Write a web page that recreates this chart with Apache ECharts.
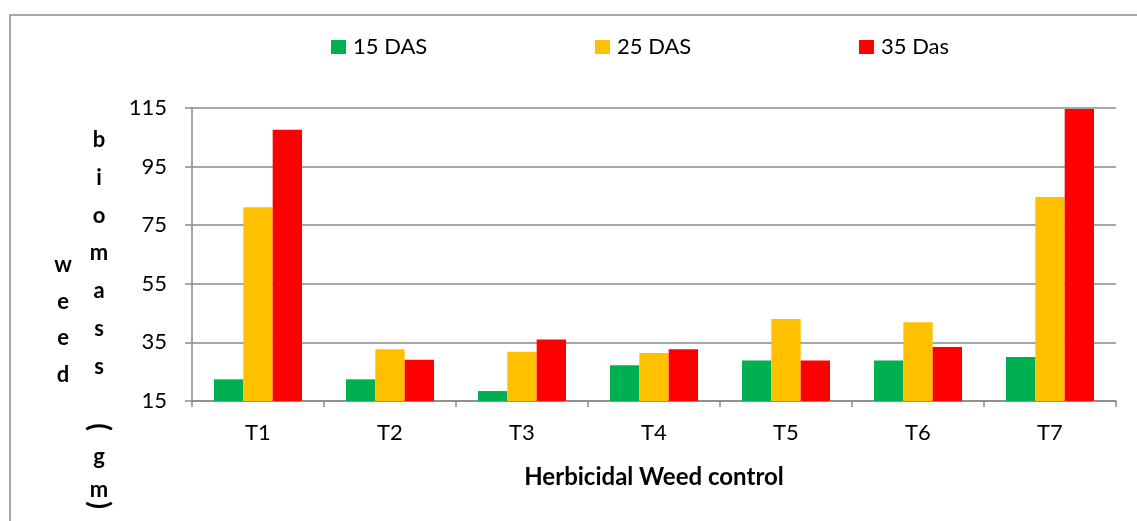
<!DOCTYPE html>
<html>
<head>
<meta charset="utf-8">
<script src="https://cdn.jsdelivr.net/npm/echarts@6/dist/echarts.min.js"></script>
<style>
html,body{margin:0;padding:0;background:#fff;}
#chart{width:1137px;height:521px;}
</style>
</head>
<body>
<div id="chart"></div>
<script>
const categories = ['T1','T2','T3','T4','T5','T6','T7'];
const seriesNames = ['15 DAS','25 DAS','35 Das'];
const das15 = [22.4, 22.4, 18.4, 27.2, 28.8, 28.8, 30.0];
const das25 = [81.1, 32.7, 31.8, 31.4, 43.0, 41.9, 84.6];
const das35 = [107.6, 29.1, 36.0, 32.7, 28.8, 33.4, 114.7];
const yTicks = {min: 15, max: 115, interval: 20};
const xTitle = 'Herbicidal Weed control';
const yTitleCol1 = ['w','e','e','d'];
const yTitleCol2 = ['b','i','o','m','a','s','s'];
const yTitleCol2b = ['g','m'];

const colors = ['#00B050','#FFC000','#FF0000'];
const FONT = 'Lato';
const chart = echarts.init(document.getElementById('chart'), null, {renderer:'canvas'});

const graphics = [
  {type:'rect', shape:{x:10, y:15, width:1200, height:600}, style:{fill:'none', stroke:'#8a8a8a', lineWidth:1.5}, silent:true}
];
yTitleCol1.forEach((ch,i)=>{
  graphics.push({type:'text', x:63, y:265 + i*36.7, style:{text:ch, fill:'#000', font:'bold 22px ' + FONT, align:'center', verticalAlign:'middle'}});
});
yTitleCol2.forEach((ch,i)=>{
  graphics.push({type:'text', x:99, y:140 + i*37.8, style:{text:ch, fill:'#000', font:'bold 22px ' + FONT, align:'center', verticalAlign:'middle'}});
});
graphics.push({type:'text', x:99, y:427, rotation:-Math.PI/2, style:{text:'(', fill:'#000', font:'bold 28px ' + FONT, align:'center', verticalAlign:'middle'}});
yTitleCol2b.forEach((ch,i)=>{
  graphics.push({type:'text', x:99, y:457 + i*33, style:{text:ch, fill:'#000', font:'bold 22px ' + FONT, align:'center', verticalAlign:'middle'}});
});
graphics.push({type:'text', x:99, y:505, rotation:-Math.PI/2, style:{text:')', fill:'#000', font:'bold 28px ' + FONT, align:'center', verticalAlign:'middle'}});

const legendLefts = [331, 595, 859];
const legends = seriesNames.map((n,i)=>({
  data:[n], left:legendLefts[i], top:36, padding:0,
  itemWidth:15, itemHeight:14, icon:'rect',
  textStyle:{fontFamily:FONT, fontSize:22, color:'#000', padding:[0,0,0,2]}
}));

const option = {
  animation:false,
  backgroundColor:'#fff',
  textStyle:{fontFamily:FONT},
  legend: legends,
  graphic: graphics,
  grid:{left:192, right:21, top:108, bottom:120, containLabel:false},
  xAxis:{
    type:'category', data:categories,
    axisLine:{show:true, lineStyle:{color:'#8a8a8a', width:1.5}},
    axisTick:{show:true, length:6, lineStyle:{color:'#8a8a8a', width:1.5}},
    axisLabel:{color:'#000', fontSize:22, fontFamily:FONT, margin:21},
    name:xTitle, nameLocation:'middle', nameGap:64,
    nameTextStyle:{color:'#000', fontSize:24, fontWeight:'bold', fontFamily:FONT}
  },
  yAxis:{
    type:'value', min:yTicks.min, max:yTicks.max, interval:yTicks.interval,
    axisLine:{show:true, lineStyle:{color:'#8a8a8a', width:1.5}},
    axisTick:{show:true, length:7, lineStyle:{color:'#8a8a8a', width:1.5}},
    axisLabel:{color:'#000', fontSize:22, fontFamily:FONT, margin:25},
    splitLine:{show:true, lineStyle:{color:'#8a8a8a', width:1.5}}
  },
  series:[das15, das25, das35].map((d,i)=>({
    name:seriesNames[i], type:'bar', data:d,
    barGap:'0%', barCategoryGap:'33.3%',
    itemStyle:{color:colors[i]}
  }))
};
chart.setOption(option);
</script>
</body>
</html>
